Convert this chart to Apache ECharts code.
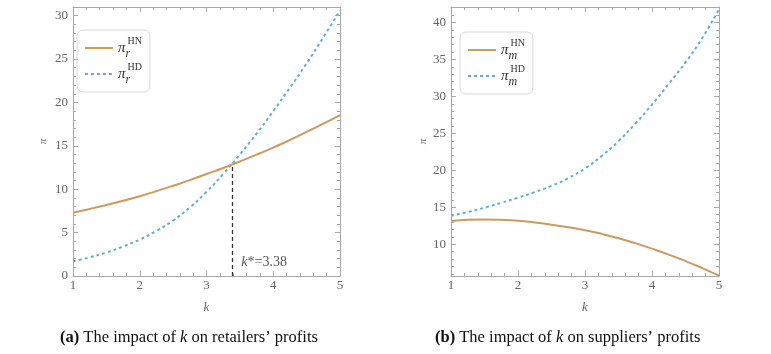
<!DOCTYPE html>
<html><head><meta charset="utf-8">
<script src="https://cdn.jsdelivr.net/npm/echarts@6/dist/echarts.min.js"></script>
<style>html,body{margin:0;padding:0;background:#fff}#c{width:771px;height:354px}</style>
</head><body><div id="c"></div>
<script>
// ---- data ----
const kValues = [1,1.25,1.5,1.75,2,2.25,2.5,2.75,3,3.25,3.5,3.75,4,4.25,4.5,4.75,5];
const retailerHN = [7.3,7.73,8.18,8.67,9.2,9.78,10.4,11.05,11.75,12.45,13.2,13.98,14.8,15.67,16.6,17.55,18.55];
const retailerHD = [1.7,2.15,2.7,3.4,4.2,5.2,6.4,7.9,9.7,11.75,14.0,16.4,19.0,21.7,24.5,27.5,30.6];
const supplierHN = [13.15,13.3,13.35,13.3,13.18,12.95,12.65,12.3,11.9,11.4,10.82,10.15,9.4,8.6,7.72,6.77,5.75];
const supplierHD = [13.85,14.35,14.95,15.6,16.3,17.05,17.9,18.95,20.25,21.95,23.95,26.3,28.9,31.7,34.6,37.9,41.8];
const kStar = 3.38;
const kStarProfit = 12.88;
const kStarLabelY = 1.6;
const yTicksRight = [10,15,20,25,30,35,40];
const yMinorRight = [6,7,8,9,11,12,13,14,16,17,18,19,21,22,23,24,26,27,28,29,31,32,33,34,36,37,38,39,41,42];
const captions = ['{b|(a)} The impact of {i|k} on retailers’ profits', '{b|(b)} The impact of {i|k} on suppliers’ profits'];

const SERIF = '"Liberation Serif","DejaVu Serif",serif';
const C_HN = '#D1985C';
const C_HD = '#63ADD3';
const FRAME = '#A8A8A8';
const LABEL = '#666';

const pairs = (xs, ys) => xs.map((x, i) => [x, ys[i]]);

function xAx(grid, top, showLabel) {
  return {
    type: 'value', gridIndex: grid, min: 1, max: 5, interval: 1,
    position: top ? 'top' : 'bottom',
    axisLine: { show: true, onZero: false, lineStyle: { color: FRAME, width: 1 } },
    axisTick: { show: true, inside: true, length: 5, lineStyle: { color: FRAME } },
    minorTick: { show: true, splitNumber: 5, length: 3, lineStyle: { color: FRAME } },
    splitLine: { show: false },
    axisLabel: { show: showLabel, color: LABEL, fontSize: 13, fontFamily: SERIF, margin: 3 },
    name: showLabel ? 'k' : '', nameLocation: 'middle', nameGap: 25,
    nameTextStyle: { fontStyle: 'italic', color: LABEL, fontSize: 13, fontFamily: SERIF }
  };
}
const labelFmt = v => (Math.abs(v % 5) < 1e-9 ? String(v) : '');
const capStyle = {
  fontSize: 16.5, fontWeight: 'normal', color: '#111', fontFamily: SERIF,
  rich: {
    b: { fontWeight: 'bold', fontSize: 16.5, fontFamily: SERIF, color: '#111' },
    i: { fontStyle: 'italic', fontSize: 16.5, fontFamily: SERIF, color: '#111' }
  }
};

const option = {
  animation: false,
  backgroundColor: '#fff',
  title: [
    { text: captions[0], left: 60, top: 329, padding: 0, textStyle: capStyle },
    { text: captions[1], left: 435, top: 329, padding: 0, textStyle: capStyle }
  ],
  grid: [
    { left: 73, right: 431, top: 7, bottom: 78 },
    { left: 451, right: 52, top: 7, bottom: 78 }
  ],
  legend: [0, 1].map(g => ({
    orient: 'vertical', left: g === 0 ? 77 : 460, top: g === 0 ? 30 : 32,
    data: g === 0 ? ['retailerHN', 'retailerHD'] : ['supplierHN', 'supplierHD'],
    itemWidth: 28, itemHeight: 10, itemGap: 2,
    itemStyle: { opacity: 0 },
    padding: [6, 8, 6, 7],
    borderColor: '#D8D8D8', borderWidth: 1, borderRadius: 6,
    formatter: name => {
      const sub = name.startsWith('retailer') ? 'r' : 'm';
      const sup = name.endsWith('HN') ? 'HN' : 'HD';
      return '{pi|π}{sub|' + sub + '}{sup|' + sup + '}';
    },
    textStyle: {
      color: '#333', fontFamily: SERIF,
      rich: {
        pi: { fontSize: 15, fontStyle: 'italic', fontFamily: SERIF, color: '#333', lineHeight: 24, verticalAlign: 'middle' },
        sub: { fontSize: 12, fontStyle: 'italic', fontFamily: SERIF, color: '#333', lineHeight: 12, verticalAlign: 'bottom', width: 2 },
        sup: { fontSize: 10, fontFamily: SERIF, color: '#333', lineHeight: 12, verticalAlign: 'top' }
      }
    }
  })),
  xAxis: [xAx(0, false, true), xAx(0, true, false), xAx(1, false, true), xAx(1, true, false)],
  yAxis: [
    { type: 'value', gridIndex: 0, min: 0, max: 31, interval: 5, position: 'left',
      axisLine: { show: true, onZero: false, lineStyle: { color: FRAME } },
      axisTick: { inside: true, length: 5, lineStyle: { color: FRAME } },
      minorTick: { show: true, splitNumber: 5, length: 3, lineStyle: { color: FRAME } },
      splitLine: { show: false },
      axisLabel: { color: LABEL, fontSize: 13, fontFamily: SERIF, margin: 5, formatter: labelFmt },
      name: 'π', nameLocation: 'middle', nameGap: 24, nameRotate: 90,
      nameTextStyle: { fontStyle: 'italic', color: '#777', fontSize: 11, fontFamily: SERIF } },
    { type: 'value', gridIndex: 0, min: 0, max: 31, interval: 5, position: 'right',
      axisLine: { show: true, onZero: false, lineStyle: { color: FRAME } },
      axisTick: { inside: true, length: 5, lineStyle: { color: FRAME } },
      minorTick: { show: true, splitNumber: 5, length: 3, lineStyle: { color: FRAME } },
      splitLine: { show: false }, axisLabel: { show: false } },
    { type: 'value', gridIndex: 1, min: 5.7, max: 42.1, position: 'left',
      axisLine: { show: true, onZero: false, lineStyle: { color: FRAME } },
      axisTick: { inside: true, length: 5, lineStyle: { color: FRAME }, customValues: yTicksRight },
      splitLine: { show: false },
      axisLabel: { color: LABEL, fontSize: 13, fontFamily: SERIF, margin: 5, customValues: yTicksRight },
      name: 'π', nameLocation: 'middle', nameGap: 22, nameRotate: 90,
      nameTextStyle: { fontStyle: 'italic', color: '#777', fontSize: 11, fontFamily: SERIF } },
    { type: 'value', gridIndex: 1, min: 5.7, max: 42.1, position: 'left',
      axisLine: { show: false },
      axisTick: { inside: true, length: 3, lineStyle: { color: FRAME }, customValues: yMinorRight },
      splitLine: { show: false }, axisLabel: { show: false } },
    { type: 'value', gridIndex: 1, min: 5.7, max: 42.1, position: 'right',
      axisLine: { show: true, onZero: false, lineStyle: { color: FRAME } },
      axisTick: { inside: true, length: 5, lineStyle: { color: FRAME }, customValues: yTicksRight },
      splitLine: { show: false }, axisLabel: { show: false } },
    { type: 'value', gridIndex: 1, min: 5.7, max: 42.1, position: 'right',
      axisLine: { show: false },
      axisTick: { inside: true, length: 3, lineStyle: { color: FRAME }, customValues: yMinorRight },
      splitLine: { show: false }, axisLabel: { show: false } }
  ],
  series: [
    { name: 'retailerHN', type: 'line', xAxisIndex: 0, yAxisIndex: 0, data: pairs(kValues, retailerHN),
      smooth: 0.5, symbol: 'none', lineStyle: { color: C_HN, width: 2 }, itemStyle: { color: C_HN }, z: 3,
      markLine: { silent: true, symbol: ['none', 'none'], label: { show: false },
        lineStyle: { color: '#333', type: [4, 3], width: 1.3 },
        data: [[{ coord: [kStar, 0] }, { coord: [kStar, kStarProfit] }]] } },
    { name: 'retailerHD', type: 'line', xAxisIndex: 0, yAxisIndex: 0, data: pairs(kValues, retailerHD),
      smooth: 0.5, symbol: 'none', lineStyle: { color: C_HD, width: 2, type: [3, 3] }, itemStyle: { color: C_HD }, z: 2,
      markPoint: { silent: true, symbol: 'circle', symbolSize: 1, itemStyle: { color: 'rgba(0,0,0,0)' },
        label: { show: true, position: 'right', distance: 9, color: '#555', fontSize: 14, fontFamily: SERIF,
          formatter: '{i|k}*=' + kStar,
          rich: { i: { fontStyle: 'italic', color: '#555', fontSize: 14, fontFamily: SERIF } } },
        data: [{ coord: [kStar, kStarLabelY] }] } },
    { name: 'supplierHN', type: 'line', xAxisIndex: 2, yAxisIndex: 2, data: pairs(kValues, supplierHN),
      smooth: 0.5, symbol: 'none', lineStyle: { color: C_HN, width: 2 }, itemStyle: { color: C_HN }, z: 3 },
    { name: 'supplierHD', type: 'line', xAxisIndex: 2, yAxisIndex: 2, data: pairs(kValues, supplierHD),
      smooth: 0.5, symbol: 'none', lineStyle: { color: C_HD, width: 2, type: [3, 3] }, itemStyle: { color: C_HD }, z: 2 }
  ]
};
const chart = echarts.init(document.getElementById('c'), null, { renderer: 'canvas' });
chart.setOption(option);
</script></body></html>
